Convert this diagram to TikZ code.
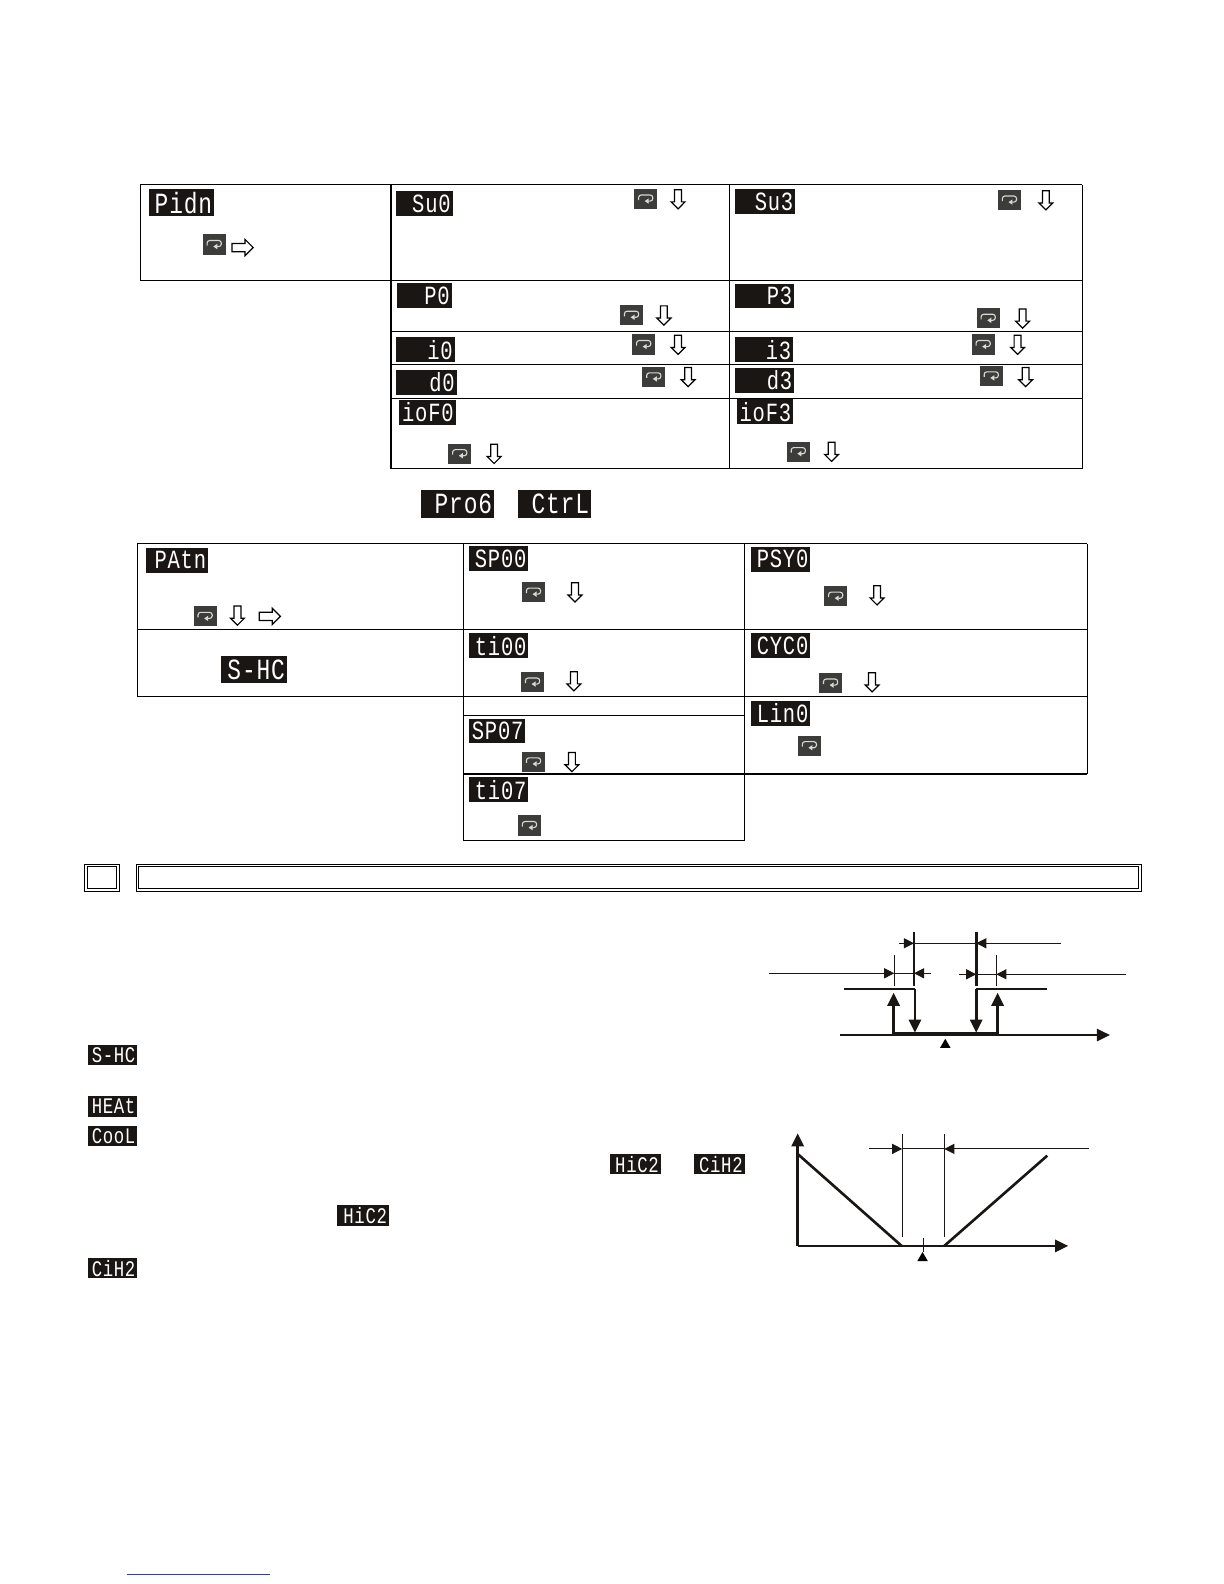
\documentclass[tikz,border=0pt]{standalone}
\usepackage{fontspec}
\usetikzlibrary{shapes,arrows.meta}
\newfontfamily\lcdfont[FakeStretch=0.78,LetterSpace=3]{Liberation Mono}
\definecolor{lcdblack}{HTML}{1A1614}
\definecolor{keygrey}{HTML}{3C3C3A}
\definecolor{loopgrey}{HTML}{D8D8D4}
\definecolor{linkblue}{HTML}{2A3FC0}
\pgfdeclarelayer{edgelayer}
\pgfdeclarelayer{nodelayer}
\pgfsetlayers{edgelayer,nodelayer,main}
\tikzstyle{none}=[inner sep=0pt]
\tikzstyle{lcdl}=[fill=lcdblack,text=white,inner xsep=2pt,inner ysep=0pt,align=right,minimum height=27pt,font=\lcdfont\fontsize{29}{29}\selectfont]
\tikzstyle{lcdm}=[fill=lcdblack,text=white,inner xsep=2pt,inner ysep=0pt,align=right,minimum height=24.5pt,font=\lcdfont\fontsize{26}{26}\selectfont]
\tikzstyle{lcds}=[fill=lcdblack,text=white,inner xsep=2pt,inner ysep=0pt,align=right,minimum height=20pt,font=\lcdfont\fontsize{22}{22}\selectfont]
\tikzstyle{keybtn}=[rectangle,fill=keygrey,inner sep=0pt,minimum width=23pt,minimum height=20pt,path picture={
	\draw[draw=loopgrey,line width=1.1pt,rounded corners=2.5pt,-{Triangle[length=4pt,width=5pt]},shift={(path picture bounding box.center)}] (-7pt,-1pt) -- (-7pt,4pt) -- (7pt,4pt) -- (7pt,-2pt) -- (-1pt,-2pt);}]
\tikzstyle{downarr}=[single arrow,draw=black,fill=white,line width=1.2pt,inner sep=2.8pt,minimum height=19pt,single arrow head extend=3.5pt,shape border rotate=270,yshift=1.5pt]
\tikzstyle{rightarr}=[single arrow,draw=black,fill=white,line width=1.2pt,inner xsep=0pt,inner ysep=3.5pt,minimum height=21pt,single arrow head extend=4pt]
\tikzstyle{dblbox}=[draw=black,line width=1pt,double=white,double distance=1.8pt,inner sep=0pt]
\tikzstyle{setpt}=[regular polygon,regular polygon sides=3,fill=black,inner sep=0pt,minimum size=12pt]
\tikzstyle{rule}=[line width=1.1pt,draw=black]
\tikzstyle{thinline}=[line width=0.9pt,draw=lcdblack]
\tikzstyle{heavy}=[line width=2.6pt,draw=lcdblack]
\tikzstyle{dimtip}=[line width=0.9pt,draw=lcdblack,-{Triangle[length=10pt,width=10pt]}]
\tikzstyle{heavytip}=[line width=2.6pt,draw=lcdblack,-{Triangle[length=13pt,width=12pt]}]

\begin{document}
\begin{tikzpicture}[x=1pt,y=-1pt]
	\useasboundingbox (0,0) rectangle (1211.3,1567.6);
	\begin{pgfonlayer}{nodelayer}
		% first table
		\node [style=none] (1) at (139, 183) {};
		\node [style=none] (2) at (387, 183) {};
		\node [style=none] (3) at (722, 183) {};
		\node [style=none] (4) at (1071, 183) {};
		\node [style=none] (5) at (139, 278) {};
		\node [style=none] (6) at (1071, 278) {};
		\node [style=none] (7) at (387, 328) {};
		\node [style=none] (8) at (1071, 328) {};
		\node [style=none] (9) at (387, 361) {};
		\node [style=none] (10) at (1071, 361) {};
		\node [style=none] (11) at (387, 394) {};
		\node [style=none] (12) at (1071, 394) {};
		\node [style=none] (13) at (387, 464) {};
		\node [style=none] (14) at (722, 464) {};
		\node [style=none] (15) at (1071, 464) {};
		\node [style=lcdl, text width=61pt] (pidn) at (179.5, 200.5) {Pidn};
		\node [style=lcdm, text width=52pt] (sv0) at (420, 201.5) {Su0};
		\node [style=lcdm, text width=56pt] (sv3) at (757, 199.5) {Su3};
		\node [style=lcdm, text width=50pt] (p0) at (420, 292.5) {P0};
		\node [style=lcdm, text width=55pt] (p3) at (756.5, 293) {P3};
		\node [style=lcdm, text width=54pt] (i0) at (421, 346) {i0};
		\node [style=lcdm, text width=54pt] (i3) at (756, 346) {i3};
		\node [style=lcdm, text width=56pt] (d0) at (422, 378.5) {d0};
		\node [style=lcdm, text width=55pt] (d3) at (756.5, 376.5) {d3};
		\node [style=lcdm, text width=52pt] (iof0) at (423, 408) {ioF0};
		\node [style=lcdm, text width=52pt] (iof3) at (757, 407.5) {ioF3};
		\node [style=keybtn] (k1) at (212, 242) {};
		\node [style=rightarr] (a1) at (238, 245) {};
		\node [style=keybtn] (k2) at (639, 197) {};
		\node [style=downarr] (a2) at (671, 197) {};
		\node [style=keybtn] (k3) at (999, 198) {};
		\node [style=downarr] (a3) at (1035, 198) {};
		\node [style=keybtn] (k4) at (625, 312) {};
		\node [style=downarr] (a4) at (657, 312) {};
		\node [style=keybtn] (k5) at (978, 315) {};
		\node [style=downarr] (a5) at (1012, 315) {};
		\node [style=keybtn] (k6) at (637, 341) {};
		\node [style=downarr] (a6) at (671, 341) {};
		\node [style=keybtn] (k7) at (973, 341) {};
		\node [style=downarr] (a7) at (1007, 341) {};
		\node [style=keybtn] (k8) at (647, 373) {};
		\node [style=downarr] (a8) at (681, 373) {};
		\node [style=keybtn] (k9) at (981, 372) {};
		\node [style=downarr] (a9) at (1015, 373) {};
		\node [style=keybtn] (k10) at (455, 449) {};
		\node [style=downarr] (a10) at (489, 449) {};
		\node [style=keybtn] (k11) at (790, 447) {};
		\node [style=downarr] (a11) at (823, 447) {};
		% heading labels
		\node [style=lcdl, text width=68pt, minimum height=28pt] (prob) at (453, 499) {Pro6};
		\node [style=lcdl, text width=68pt, minimum height=28pt] (ctrl) at (549, 499) {CtrL};
		% second table
		\node [style=none] (16) at (136, 538) {};
		\node [style=none] (17) at (459, 538) {};
		\node [style=none] (18) at (737, 538) {};
		\node [style=none] (19) at (1076, 538) {};
		\node [style=none] (20) at (136, 623) {};
		\node [style=none] (21) at (1076, 623) {};
		\node [style=none] (22) at (136, 689) {};
		\node [style=none] (23) at (1076, 689) {};
		\node [style=none] (24) at (459, 708) {};
		\node [style=none] (25) at (737, 708) {};
		\node [style=none] (26) at (459, 766) {};
		\node [style=none] (27) at (1076, 766) {};
		\node [style=none] (28) at (459, 832) {};
		\node [style=none] (29) at (737, 832) {};
		\node [style=lcdm, text width=58pt] (patn) at (175, 554.5) {PAtn};
		\node [style=lcdm, text width=55pt] (sp00) at (493.5, 553) {SP00};
		\node [style=lcdm, text width=55pt] (psy0) at (772.5, 553.5) {PSY0};
		\node [style=lcdl, text width=61pt] (shc1) at (251.5, 662.5) {S-HC};
		\node [style=lcdm, text width=55pt] (ti00) at (493.5, 639) {ti00};
		\node [style=lcdm, text width=55pt] (cyc0) at (772.5, 639) {CYC0};
		\node [style=lcdm, text width=52pt] (sp07) at (492, 723.5) {SP07};
		\node [style=lcdm, text width=55pt] (lin0) at (772.5, 706) {Lin0};
		\node [style=lcdm, text width=55pt] (ti07) at (493.5, 781.5) {ti07};
		\node [style=keybtn] (k12) at (203, 610) {};
		\node [style=downarr] (a12) at (235, 609) {};
		\node [style=rightarr] (a13) at (265, 610) {};
		\node [style=keybtn] (k13) at (528, 586) {};
		\node [style=downarr] (a14) at (569, 586) {};
		\node [style=keybtn] (k14) at (827, 590) {};
		\node [style=downarr] (a15) at (868, 589) {};
		\node [style=keybtn] (k15) at (527, 675) {};
		\node [style=downarr] (a16) at (568, 674) {};
		\node [style=keybtn] (k16) at (822, 676) {};
		\node [style=downarr] (a17) at (863, 675) {};
		\node [style=keybtn] (k17) at (528, 754) {};
		\node [style=downarr] (a18) at (566, 754) {};
		\node [style=keybtn] (k18) at (801, 738) {};
		\node [style=keybtn] (k19) at (524, 817) {};
		% section heading
		\node [style=dblbox, minimum width=31pt, minimum height=24pt] (sec) at (101, 868.5) {};
		\node [style=dblbox, minimum width=992pt, minimum height=24pt] (title) at (632, 868.5) {};
		% labels beside the text
		\node [style=lcds, text width=45pt] (shc2) at (111.5, 1044) {S-HC};
		\node [style=lcds, text width=45pt] (heat) at (111.5, 1095) {HEAt};
		\node [style=lcds, text width=45pt] (cool) at (111.5, 1124) {CooL};
		\node [style=lcds, text width=46pt] (hic1) at (629, 1152) {HiC2};
		\node [style=lcds, text width=46pt] (cih1) at (712, 1152) {CiH2};
		\node [style=lcds, text width=47pt] (hic2) at (359.5, 1203) {HiC2};
		\node [style=lcds, text width=45pt] (cih2) at (111.5, 1255) {CiH2};
		% relay curve
		\node [style=none] (30) at (904.5, 922.3) {};
		\node [style=none] (31) at (904.5, 975.8) {};
		\node [style=none] (32) at (966.1, 922.3) {};
		\node [style=none] (33) at (966.1, 975.8) {};
		\node [style=none] (34) at (885, 945) {};
		\node [style=none] (35) at (885, 975.8) {};
		\node [style=none] (36) at (986, 945) {};
		\node [style=none] (37) at (986, 975.8) {};
		\node [style=none] (38) at (889.7, 933.5) {};
		\node [style=none] (39) at (904.5, 933.5) {};
		\node [style=none] (40) at (966.1, 933.5) {};
		\node [style=none] (41) at (1049.7, 933.5) {};
		\node [style=none] (42) at (761, 963.2) {};
		\node [style=none] (43) at (885, 963.2) {};
		\node [style=none] (44) at (904.5, 963.2) {};
		\node [style=none] (45) at (921.3, 963.2) {};
		\node [style=none] (46) at (949.3, 964.2) {};
		\node [style=none] (47) at (966.1, 964.2) {};
		\node [style=none] (48) at (986, 964.2) {};
		\node [style=none] (49) at (1114.3, 964.2) {};
		\node [style=none] (50) at (835.5, 978.7) {};
		\node [style=none] (51) at (905.5, 978.7) {};
		\node [style=none] (52) at (905.5, 1022) {};
		\node [style=none] (53) at (1035.8, 978.7) {};
		\node [style=none] (54) at (966.1, 978.7) {};
		\node [style=none] (55) at (966.1, 1022) {};
		\node [style=none] (56) at (884.4, 1023) {};
		\node [style=none] (57) at (884.4, 982.4) {};
		\node [style=none] (58) at (987.3, 1023) {};
		\node [style=none] (59) at (987.3, 982.4) {};
		\node [style=none] (60) at (831.3, 1024.3) {};
		\node [style=none] (61) at (1098.5, 1024.3) {};
		\node [style=setpt] (62) at (935.5, 1034) {};
		% band curve
		\node [style=none] (63) at (789.4, 1233) {};
		\node [style=none] (64) at (789.4, 1121.5) {};
		\node [style=none] (65) at (1057.2, 1233) {};
		\node [style=none] (66) at (789.4, 1142) {};
		\node [style=none] (67) at (892.3, 1233) {};
		\node [style=none] (68) at (934.5, 1233) {};
		\node [style=none] (69) at (1036.4, 1143.7) {};
		\node [style=none] (70) at (892.9, 1122.2) {};
		\node [style=none] (71) at (892.9, 1223.8) {};
		\node [style=none] (72) at (934.5, 1122.2) {};
		\node [style=none] (73) at (934.5, 1223.8) {};
		\node [style=none] (74) at (860.3, 1137) {};
		\node [style=none] (75) at (892.9, 1137) {};
		\node [style=none] (76) at (934.5, 1137) {};
		\node [style=none] (77) at (1077.7, 1137) {};
		\node [style=none] (78) at (914, 1225) {};
		\node [style=none] (79) at (914, 1238.7) {};
		\node [style=setpt] (80) at (913, 1245) {};
		% link at the foot of the page
		\node [style=none] (81) at (126, 1558) {};
		\node [style=none] (82) at (267, 1558) {};
	\end{pgfonlayer}
	\begin{pgfonlayer}{edgelayer}
		\draw[style=rule] (1.center) to (4.center);
		\draw[style=rule] (5.center) to (6.center);
		\draw[style=rule] (7.center) to (8.center);
		\draw[style=rule] (9.center) to (10.center);
		\draw[style=rule] (11.center) to (12.center);
		\draw[style=rule] (13.center) to (15.center);
		\draw[style=rule] (1.center) to (5.center);
		\draw[style=rule] (2.center) to (13.center);
		\draw[style=rule] (3.center) to (14.center);
		\draw[style=rule] (4.center) to (15.center);
		\draw[style=rule] (16.center) to (19.center);
		\draw[style=rule] (20.center) to (21.center);
		\draw[style=rule] (22.center) to (23.center);
		\draw[style=rule] (24.center) to (25.center);
		\draw[style=rule] (26.center) to (27.center);
		\draw[style=rule] (28.center) to (29.center);
		\draw[style=rule] (16.center) to (22.center);
		\draw[style=rule] (17.center) to (28.center);
		\draw[style=rule] (18.center) to (29.center);
		\draw[style=rule] (19.center) to (27.center);
		\draw[style=heavy] (30.center) to (31.center);
		\draw[style=heavy] (32.center) to (33.center);
		\draw[style=thinline] (34.center) to (35.center);
		\draw[style=thinline] (36.center) to (37.center);
		\draw[style=dimtip] (38.center) to (39.center);
		\draw[style=thinline] (39.center) to (40.center);
		\draw[style=dimtip] (41.center) to (40.center);
		\draw[style=dimtip] (42.center) to (43.center);
		\draw[style=thinline] (43.center) to (44.center);
		\draw[style=dimtip] (45.center) to (44.center);
		\draw[style=dimtip] (46.center) to (47.center);
		\draw[style=thinline] (47.center) to (48.center);
		\draw[style=dimtip] (49.center) to (48.center);
		\draw[style=heavy] (50.center) to (51.center);
		\draw[style=heavytip] (51.center) to (52.center);
		\draw[style=heavy] (53.center) to (54.center);
		\draw[style=heavytip] (54.center) to (55.center);
		\draw[style=heavytip] (56.center) to (57.center);
		\draw[style=heavytip] (58.center) to (59.center);
		\draw[style=heavy] (56.center) to (58.center);
		\draw[style=heavytip] (60.center) to (61.center);
		\draw[style=heavytip] (63.center) to (64.center);
		\draw[style=heavytip] (63.center) to (65.center);
		\draw[style=heavy] (66.center) to (67.center);
		\draw[style=heavy] (68.center) to (69.center);
		\draw[style=thinline] (70.center) to (71.center);
		\draw[style=thinline] (72.center) to (73.center);
		\draw[style=dimtip] (74.center) to (75.center);
		\draw[style=thinline] (75.center) to (76.center);
		\draw[style=dimtip] (77.center) to (76.center);
		\draw[style=thinline] (78.center) to (79.center);
		\draw[line width=1pt,draw=linkblue] (81.center) to (82.center);
	\end{pgfonlayer}
\end{tikzpicture}
\end{document}
